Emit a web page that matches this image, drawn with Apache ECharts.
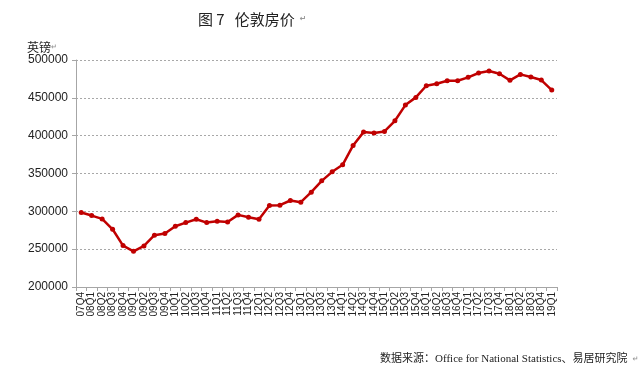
<!DOCTYPE html>
<html>
<head>
<meta charset="utf-8">
<script src="https://cdn.jsdelivr.net/npm/echarts@6/dist/echarts.min.js"></script>
<style>
html,body{margin:0;padding:0;background:#fff;}
#main{width:640px;height:373px;}
</style>
</head>
<body>
<div id="main"></div>
<script>
var categories = ["07Q4",
  "08Q1","08Q2","08Q3","08Q4",
  "09Q1","09Q2","09Q3","09Q4",
  "10Q1","10Q2","10Q3","10Q4",
  "11Q1","11Q2","11Q3","11Q4",
  "12Q1","12Q2","12Q3","12Q4",
  "13Q1","13Q2","13Q3","13Q4",
  "14Q1","14Q2","14Q3","14Q4",
  "15Q1","15Q2","15Q3","15Q4",
  "16Q1","16Q2","16Q3","16Q4",
  "17Q1","17Q2","17Q3","17Q4",
  "18Q1","18Q2","18Q3","18Q4",
  "19Q1"];
var prices = [298400,
  294400,290000,276300,254700,
  247200,254300,268400,270600,
  280300,285100,289600,285100,
  286900,286000,295300,292200,
  289600,307600,308100,314300,
  312100,325300,340300,352200,
  361500,387100,404700,403400,
  405600,419700,440400,450600,
  466000,468700,472600,472600,
  477100,482800,485400,481900,
  473100,481000,477500,473500,
  460300];
var titleText = "图 7   伦敦房价";
var unitText = "英镑";
var sourceText = "数据来源：Office for National Statistics、易居研究院";

var chart = echarts.init(document.getElementById('main'));
var gray = '#a6a6a6';
chart.setOption({
  animation: false,
  backgroundColor: '#fff',
  title: [{
    text: '{t|' + titleText + '} {m|↵}',
    left: 193, top: 5,
    textStyle: {
      rich: {
        t: {fontFamily: '"Noto Sans CJK SC"', fontSize: 15, color: '#222', fontWeight: 'normal'},
        m: {fontFamily: 'DejaVu Sans', fontSize: 8, color: '#999'}
      }
    }
  }, {
    text: '{t|' + unitText + '}{m|↵}',
    left: 22, top: 36,
    textStyle: {
      rich: {
        t: {fontFamily: '"Noto Sans CJK SC"', fontSize: 12, color: '#222', fontWeight: 'normal'},
        m: {fontFamily: 'DejaVu Sans', fontSize: 7, color: '#999'}
      }
    }
  }, {
    text: '{t|' + sourceText + '} {m|↵}',
    left: 375, top: 345,
    textStyle: {
      rich: {
        t: {fontFamily: '"Liberation Serif", "Noto Sans CJK SC"', fontSize: 11, color: '#222', fontWeight: 'normal'},
        m: {fontFamily: 'DejaVu Sans', fontSize: 7, color: '#999'}
      }
    }
  }],
  grid: {left: 76, right: 83, top: 60, bottom: 86},
  xAxis: {
    type: 'category',
    data: categories,
    boundaryGap: true,
    axisLine: {lineStyle: {color: gray, width: 1}},
    axisTick: {show: true, length: 4, lineStyle: {color: gray}},
    axisLabel: {
      rotate: 90, interval: 0, fontSize: 10, color: '#222',
      fontFamily: 'Liberation Sans', margin: 5
    },
    splitLine: {show: false}
  },
  yAxis: {
    type: 'value',
    min: 200000, max: 500000, interval: 50000,
    axisLine: {show: true, lineStyle: {color: gray, width: 1}},
    axisTick: {show: true, length: 4, lineStyle: {color: gray}},
    axisLabel: {fontSize: 12, color: '#222', fontFamily: 'Liberation Sans', margin: 8,
      formatter: function (v) { return String(v); }},
    splitLine: {show: true, lineStyle: {color: '#a8a8a8', type: [2, 2], width: 1}}
  },
  series: [{
    type: 'line',
    data: prices,
    symbol: 'circle',
    symbolSize: 5,
    lineStyle: {color: '#c00000', width: 2.5},
    itemStyle: {color: '#c00000'}
  }]
});
</script>
</body>
</html>
